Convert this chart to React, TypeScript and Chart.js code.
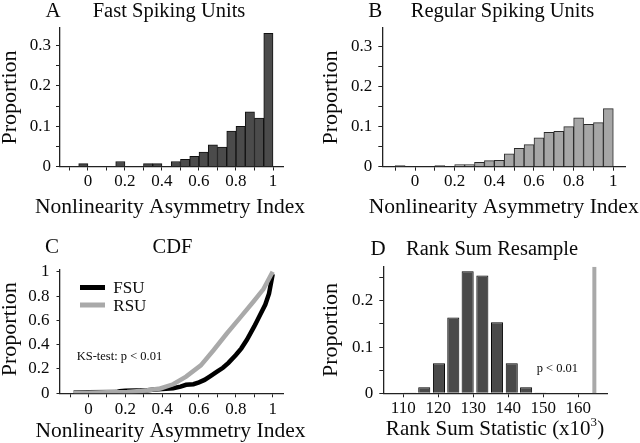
import React, { useEffect, useRef } from "react";
import { Chart, registerables } from "chart.js";

Chart.register(...registerables);

const SERIF = "'Liberation Serif', 'Times New Roman', serif";

// ---------- Panel A: Fast spiking units histogram ----------
const FSU_BIN_CENTERS = [
  -0.025, 0.025, 0.075, 0.125, 0.175, 0.225, 0.275, 0.325, 0.375, 0.425, 0.475,
  0.525, 0.575, 0.625, 0.675, 0.725, 0.775, 0.825, 0.875, 0.925, 0.975,
];
const FSU_PROPORTION = [
  0.007, 0, 0, 0, 0.0125, 0, 0, 0.007, 0.007, 0, 0.0125,
  0.018, 0.025, 0.036, 0.054, 0.048, 0.088, 0.1, 0.136, 0.12, 0.331,
];

// ---------- Panel B: Regular spiking units histogram ----------
const RSU_BIN_CENTERS = [
  -0.075, -0.025, 0.025, 0.075, 0.125, 0.175, 0.225, 0.275, 0.325, 0.375, 0.425,
  0.475, 0.525, 0.575, 0.625, 0.675, 0.725, 0.775, 0.825, 0.875, 0.925, 0.975,
];
const RSU_PROPORTION = [
  0.003, 0, 0, 0, 0.003, 0, 0.005, 0.005, 0.011, 0.015, 0.016,
  0.032, 0.046, 0.055, 0.072, 0.086, 0.088, 0.1, 0.122, 0.106, 0.11, 0.145,
];

// ---------- Panel C: CDFs ----------
const FSU_CDF_X = [
  -0.08, 0.0, 0.15, 0.17, 0.2, 0.32, 0.36, 0.4, 0.46, 0.5, 0.53, 0.57, 0.6, 0.63,
  0.66, 0.7, 0.73, 0.76, 0.8, 0.83, 0.86, 0.9, 0.93, 0.96, 0.98, 1.0,
];
const FSU_CDF_Y = [
  0.006, 0.008, 0.01, 0.018, 0.022, 0.026, 0.032, 0.036, 0.042, 0.055, 0.07, 0.075,
  0.09, 0.11, 0.14, 0.18, 0.21, 0.25, 0.315, 0.37, 0.44, 0.55, 0.64, 0.73, 0.82, 0.98,
];
const RSU_CDF_X = [
  -0.08, 0.0, 0.1, 0.21, 0.28, 0.32, 0.39, 0.46, 0.53, 0.61, 0.68, 0.75, 0.82, 0.895,
  0.95, 1.0,
];
const RSU_CDF_Y = [
  0.004, 0.005, 0.008, 0.01, 0.018, 0.025, 0.04, 0.074, 0.137, 0.23, 0.356, 0.49,
  0.616, 0.753, 0.857, 1.0,
];

// ---------- Panel D: Rank sum resample ----------
const RANKSUM_CENTERS = [111.9, 116.0, 120.2, 124.3, 128.4, 132.6, 136.8, 141.0, 145.1, 149.2];
const RANKSUM_PROPORTION = [0.002, 0.013, 0.065, 0.164, 0.264, 0.255, 0.154, 0.065, 0.013, 0.0015];
const OBSERVED_RANKSUM = 164.6;
const OBSERVED_LINE = [0, 0.274];

// ---------- Tick labels ----------
const NAI_TICK_LABELS = [0, 0.2, 0.4, 0.6, 0.8, 1];
const HIST_Y_TICK_LABELS = [0, 0.1, 0.2, 0.3];
const CDF_Y_TICK_LABELS = [0, 0.2, 0.4, 0.6, 0.8, 1];
const RANK_X_TICK_LABELS = [110, 120, 130, 140, 150, 160];
const RANK_Y_TICK_LABELS = [0, 0.1, 0.2];

type Part = { t: string; sup?: boolean };
type TextItem = {
  parts: Part[];
  x: number;
  y: number;
  size: number;
  align?: "left" | "center";
  rotate?: boolean;
};
type LineItem = { x1: number; y1: number; x2: number; y2: number; color: string; width: number };

const font = (size: number) => `${size}px ${SERIF}`;

function T(text: string, x: number, y: number, size: number, extra: Partial<TextItem> = {}): TextItem {
  return { parts: [{ t: text }], x, y, size, ...extra };
}

function overlayPlugin(texts: TextItem[], lines: LineItem[] = []) {
  return {
    id: "overlay",
    afterDraw(chart: any) {
      const ctx: CanvasRenderingContext2D = chart.ctx;
      ctx.save();
      for (const l of lines) {
        ctx.beginPath();
        ctx.strokeStyle = l.color;
        ctx.lineWidth = l.width;
        ctx.lineCap = "butt";
        ctx.moveTo(l.x1, l.y1);
        ctx.lineTo(l.x2, l.y2);
        ctx.stroke();
      }
      for (const t of texts) {
        const sizeOf = (p: Part) => (p.sup ? t.size * 0.62 : t.size);
        const measure = (p: Part) => {
          ctx.font = font(sizeOf(p));
          return ctx.measureText(p.t).width;
        };
        const total = t.parts.reduce((s, p) => s + measure(p), 0);
        ctx.save();
        ctx.translate(t.x, t.y);
        if (t.rotate) ctx.rotate(-Math.PI / 2);
        ctx.textBaseline = "alphabetic";
        ctx.textAlign = "left";
        ctx.fillStyle = "#0a0a0a";
        let cx = t.align === "left" ? 0 : -total / 2;
        for (const p of t.parts) {
          const w = measure(p);
          ctx.font = font(sizeOf(p));
          ctx.fillText(p.t, cx, p.sup ? -t.size * 0.42 : 0);
          cx += w;
        }
        ctx.restore();
      }
      ctx.restore();
    },
  };
}

function fmt(v: number) {
  return String(Math.round(v * 100) / 100);
}

function axis(o: {
  axis: "x" | "y";
  min: number;
  max: number;
  step: number;
  labels: number[];
  pad: number;
  fit: number;
  tickLength?: number;
}) {
  return {
    type: "linear",
    min: o.min,
    max: o.max,
    offset: false,
    grid: {
      display: true,
      drawOnChartArea: false,
      drawTicks: true,
      tickLength: o.tickLength ?? 4,
      color: "#222",
      lineWidth: 1,
      offset: false,
    },
    border: { display: true, color: "#222", width: 1.3 },
    ticks: {
      stepSize: o.step,
      autoSkip: false,
      includeBounds: false,
      maxRotation: 0,
      minRotation: 0,
      padding: o.pad,
      color: "#0a0a0a",
      font: { family: SERIF, size: 17 },
      callback: (v: number) => (o.labels.some((l) => Math.abs(l - v) < 1e-6) ? fmt(v) : ""),
    },
    afterFit: (s: any) => {
      if (o.axis === "y") s.width = o.fit;
      else s.height = o.fit;
    },
  };
}

const baseOptions = (padding: any) => ({
  responsive: false,
  maintainAspectRatio: false,
  animation: false,
  devicePixelRatio: 1,
  layout: { padding },
  plugins: { legend: { display: false }, tooltip: { enabled: false }, title: { display: false } },
});

function histDataset(centers: number[], values: number[], fill: string, border: string, barPct = 1) {
  return {
    type: "bar",
    data: centers.map((x, i) => ({ x, y: values[i] })),
    backgroundColor: fill,
    borderColor: border,
    borderWidth: 1,
    borderSkipped: "start",
    barPercentage: barPct,
    categoryPercentage: 1,
  };
}

function buildA(): any {
  return {
    type: "bar",
    data: { datasets: [histDataset(FSU_BIN_CENTERS, FSU_PROPORTION, "#4b4b4b", "#111")] },
    options: {
      ...baseOptions({ left: 0, top: 28, right: 37, bottom: 0 }),
      scales: {
        x: axis({ axis: "x", min: -0.151, max: 1.054, step: 0.1, labels: NAI_TICK_LABELS, pad: 0.5, fit: 54.5 }),
        y: axis({ axis: "y", min: 0, max: 0.344, step: 0.05, labels: HIST_Y_TICK_LABELS, pad: 5, fit: 60 }),
      },
    },
    plugins: [
      overlayPlugin([
        T("A", 53, 17, 21),
        T("Fast Spiking Units", 169, 17, 20.5),
        T("Proportion", 15.5, 97.5, 22, { rotate: true }),
        T("Nonlinearity Asymmetry Index", 170, 213, 21.5),
      ]),
    ],
  };
}

function buildB(): any {
  return {
    type: "bar",
    data: { datasets: [histDataset(RSU_BIN_CENTERS, RSU_PROPORTION, "#a6a6a6", "#2a2a2a")] },
    options: {
      ...baseOptions({ left: 0, top: 28, right: 15, bottom: 0 }),
      scales: {
        x: axis({ axis: "x", min: -0.165, max: 1.059, step: 0.1, labels: NAI_TICK_LABELS, pad: 1, fit: 54.3 }),
        y: axis({ axis: "y", min: 0, max: 0.346, step: 0.05, labels: HIST_Y_TICK_LABELS, pad: 6, fit: 62.3 }),
      },
    },
    plugins: [
      overlayPlugin([
        T("B", 55.3, 16.5, 21),
        T("Regular Spiking Units", 182.5, 16.5, 20.5),
        T("Proportion", 16.7, 97.5, 22, { rotate: true }),
        T("Nonlinearity Asymmetry Index", 183.7, 213.3, 21.5),
      ]),
    ],
  };
}

function buildC(): any {
  return {
    type: "line",
    data: {
      datasets: [
        {
          label: "RSU",
          data: RSU_CDF_X.map((x, i) => ({ x, y: RSU_CDF_Y[i] })),
          borderColor: "#a9a9a9",
          borderWidth: 4.5,
          pointRadius: 0,
          tension: 0,
          fill: false,
        },
        {
          label: "FSU",
          data: FSU_CDF_X.map((x, i) => ({ x, y: FSU_CDF_Y[i] })),
          borderColor: "#000",
          borderWidth: 4.5,
          pointRadius: 0,
          tension: 0,
          fill: false,
        },
      ],
    },
    options: {
      ...baseOptions({ left: 0, top: 48.3, right: 37, bottom: 0 }),
      scales: {
        x: axis({ axis: "x", min: -0.157, max: 1.056, step: 0.1, labels: NAI_TICK_LABELS, pad: 1.8, fit: 49.7 }),
        y: axis({ axis: "y", min: 0, max: 1.02, step: 0.2, labels: CDF_Y_TICK_LABELS, pad: 7, fit: 59.5, tickLength: 3 }),
      },
    },
    plugins: [
      overlayPlugin(
        [
          T("C", 52, 32.3, 21),
          T("CDF", 172.5, 32.3, 20.5),
          T("Proportion", 15.5, 108.2, 22, { rotate: true }),
          T("Nonlinearity Asymmetry Index", 170.5, 215.7, 21.5),
          T("FSU", 113.3, 72.3, 17, { align: "left" }),
          T("RSU", 113.3, 90, 17, { align: "left" }),
          T("KS-test: p < 0.01", 76.7, 139, 12.5, { align: "left" }),
        ],
        [
          { x1: 80, y1: 66.5, x2: 105, y2: 66.5, color: "#000", width: 5 },
          { x1: 80, y1: 84, x2: 105, y2: 84, color: "#a9a9a9", width: 5 },
        ]
      ),
    ],
  };
}

function buildD(): any {
  return {
    type: "bar",
    data: {
      datasets: [
        histDataset(RANKSUM_CENTERS, RANKSUM_PROPORTION, "#4a4a4a", "#000", 0.84),
        {
          type: "line",
          data: OBSERVED_LINE.map((y) => ({ x: OBSERVED_RANKSUM, y })),
          borderColor: "#a9a9a9",
          borderWidth: 4,
          borderCapStyle: "butt",
          pointRadius: 0,
          fill: false,
        },
      ],
    },
    options: {
      ...baseOptions({ left: 0, top: 45.7, right: 32.7, bottom: 0 }),
      scales: {
        x: axis({ axis: "x", min: 104.3, max: 168.3, step: 10, labels: RANK_X_TICK_LABELS, pad: 1, fit: 49.7 }),
        y: axis({ axis: "y", min: 0, max: 0.274, step: 0.05, labels: RANK_Y_TICK_LABELS, pad: 6, fit: 63.3 }),
      },
    },
    plugins: [
      overlayPlugin([
        T("D", 58, 34, 21),
        T("Rank Sum Resample", 172, 34, 20.5),
        T("Proportion", 16.7, 109, 22, { rotate: true }),
        {
          parts: [{ t: "Rank Sum Statistic (x10" }, { t: "3", sup: true }, { t: ")" }],
          x: 175,
          y: 214,
          size: 21,
        },
        T("p < 0.01", 216.7, 150.7, 12.5, { align: "left" }),
      ]),
    ],
  };
}

function Panel(props: { left: number; top: number; width: number; height: number; build: () => any }) {
  const ref = useRef<HTMLCanvasElement>(null);
  useEffect(() => {
    const chart = new Chart(ref.current as HTMLCanvasElement, props.build());
    return () => chart.destroy();
  }, []);
  return (
    <canvas
      ref={ref}
      width={props.width}
      height={props.height}
      style={{ position: "absolute", left: props.left, top: props.top, width: props.width, height: props.height }}
    />
  );
}

export default function App() {
  return (
    <div style={{ position: "absolute", left: 0, top: 0, width: 640, height: 443, background: "#fff", overflow: "hidden" }}>
      <Panel left={0} top={0} width={320} height={221} build={buildA} />
      <Panel left={320} top={0} width={320} height={221} build={buildB} />
      <Panel left={0} top={221} width={320} height={222} build={buildC} />
      <Panel left={320} top={221} width={320} height={222} build={buildD} />
    </div>
  );
}
